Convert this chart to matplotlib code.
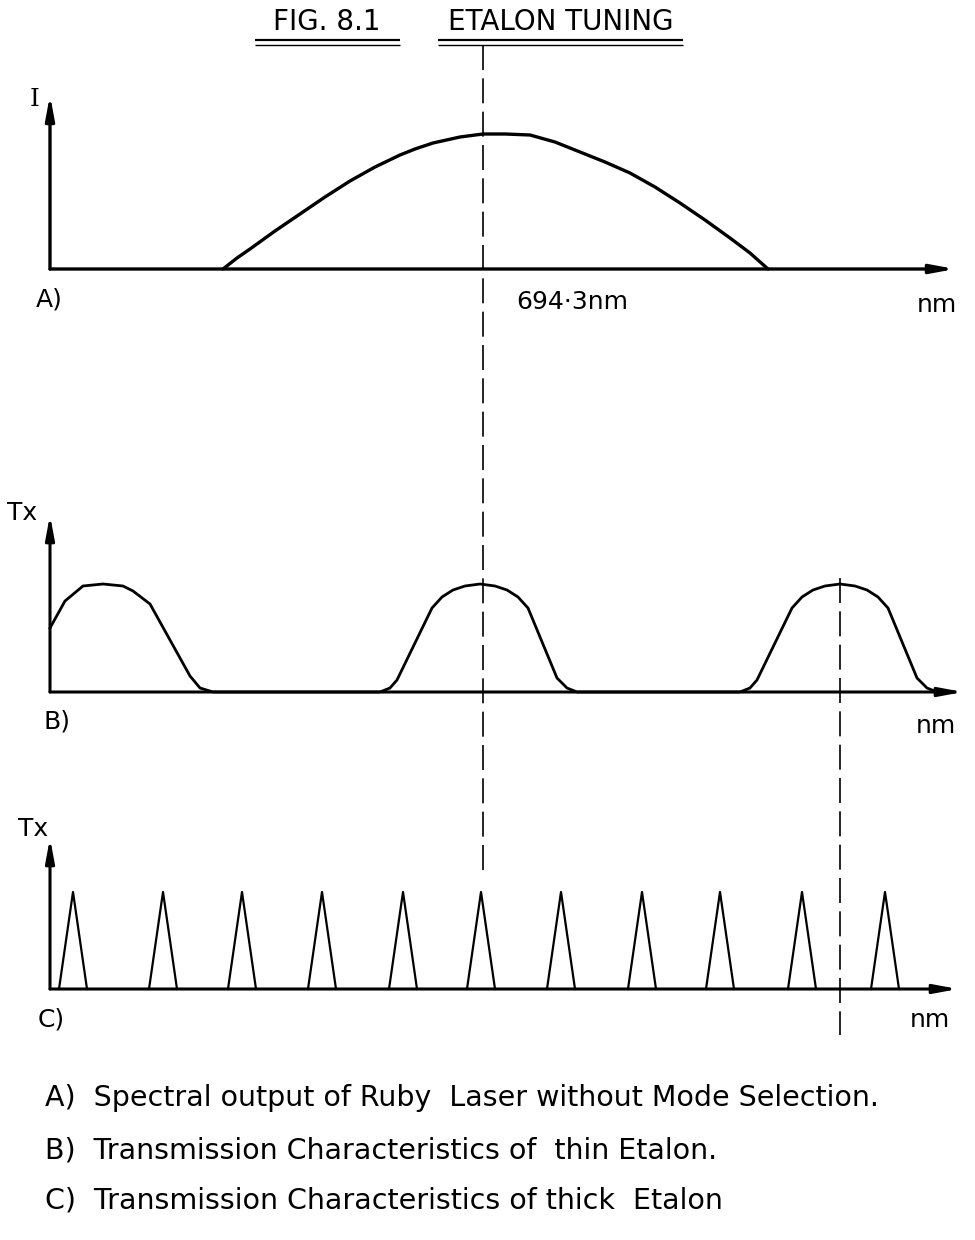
import matplotlib
matplotlib.use("Agg")
import matplotlib.pyplot as plt

plt.rcParams['font.family'] = ['DejaVu Sans']

# ---------------- data ----------------
# Panel A: spectral output of ruby laser (relative wavelength, intensity)
a_x = [173, 187, 200, 225, 250, 275, 300, 325, 350, 365, 383, 410, 433,
       455, 480, 505, 530, 555, 580, 605, 630, 655, 680, 700, 718]
a_y = [0, 11, 20, 38, 55, 72, 88, 102, 114, 120, 126, 132, 135,
       135, 134, 127, 117, 107, 96, 82, 66, 49, 31, 16, 0]

# Panel B: thin etalon transmission (relative wavelength, Tx)
b_x = [0, 15, 33, 53, 73, 83, 100, 140, 150, 163,
       330, 340, 347, 382, 392, 403, 415, 430, 445, 457, 468, 478, 507, 517, 527,
       690, 700, 707, 742, 752, 763, 775, 790, 805, 817, 828, 838, 867, 877, 887, 905]
b_y = [64, 91, 106, 108, 106, 101, 88, 16, 4, 0,
       0, 4, 12, 84, 95, 102, 106, 108, 106, 102, 95, 84, 14, 4, 0,
       0, 4, 12, 84, 95, 102, 106, 108, 106, 102, 95, 84, 14, 4, 0, 0]

# Panel C: thick etalon transmission peaks (relative wavelength, Tx)
c_peaks = [23, 113, 192, 272, 353, 431, 511, 592, 670, 752, 835]
c_heights = [97, 97, 97, 97, 97, 97, 97, 97, 97, 97, 97]
c_halfwidth = 14

# marked wavelengths (dashed guide lines)
mark_x = [433, 790]
mark_label = "694\u00b73nm"

title_left = "FIG. 8.1"
title_right = "ETALON TUNING"
panel_labels = ["A)", "B)", "C)"]
axis_labels = ["I", "Tx", "Tx"]
x_unit = "nm"
captions = ["A)  Spectral output of Ruby  Laser without Mode Selection.",
            "B)  Transmission Characteristics of  thin Etalon.",
            "C)  Transmission Characteristics of thick  Etalon"]

# ---------------- figure ----------------
W, H = 975, 1240
fig = plt.figure(figsize=(W / 100, H / 100), dpi=100)
fig.patch.set_facecolor('white')

XMIN, XMAX = -50, 925


def panel_axes(base_px):
    ax = fig.add_axes([0, (H - (base_px + 10)) / H, 1, 200 / H])
    ax.set_xlim(XMIN, XMAX)
    ax.set_ylim(-10, 190)
    ax.axis('off')
    return ax


def draw_axes(ax, ytop, xend, lw=2.2):
    ap = dict(arrowstyle='-|>,head_length=1.4,head_width=0.26', lw=lw,
              color='black', shrinkA=0, shrinkB=0, mutation_scale=10)
    ax.annotate('', xy=(0, ytop), xytext=(0, 0), arrowprops=ap,
                annotation_clip=False)
    ax.annotate('', xy=(xend, 0), xytext=(0, 0), arrowprops=ap,
                annotation_clip=False)


# overlay axes in page coordinates (for dashed guides, text)
ov = fig.add_axes([0, 0, 1, 1])
ov.set_xlim(XMIN, XMAX)
ov.set_ylim(H, 0)
ov.axis('off')

# Panel A
axA = panel_axes(269)
draw_axes(axA, 174, 905, lw=2.4)
axA.plot(a_x, a_y, color='black', lw=2.4, solid_capstyle='round',
         solid_joinstyle='round', clip_on=False)

# Panel B
axB = panel_axes(692)
draw_axes(axB, 177, 913, lw=2.2)
axB.plot(b_x, b_y, color='black', lw=2.0, solid_joinstyle='round',
         clip_on=False)

# Panel C
axC = panel_axes(989)
draw_axes(axC, 151, 908, lw=2.2)
for p, h in zip(c_peaks, c_heights):
    axC.plot([p - c_halfwidth, p, p + c_halfwidth], [0, h, 0],
             color='black', lw=1.6, clip_on=False)

# dashed guide lines
ov.vlines(mark_x[0], 45, 870, colors='black', lw=1.2,
          linestyles=(0, (15, 5)))
ov.vlines(mark_x[1], 578, 1035, colors='black', lw=1.2,
          linestyles=(0, (15, 5)))

# title with double underlines
ov.text(327 - 50, 22, title_left, fontsize=20, ha='center', va='center')
ov.text(561 - 50, 22, title_right, fontsize=20, ha='center', va='center')
for x0, x1 in [(255, 400), (438, 683)]:
    ov.hlines(40, x0 - 50, x1 - 50, colors='black', lw=1.6)
    ov.hlines(45, x0 - 50, x1 - 50, colors='black', lw=1.0)

# panel texts
ov.text(35 - 50, 100, axis_labels[0], fontsize=18, ha='center', va='center',
        family='DejaVu Serif')
ov.text(49 - 50, 300, panel_labels[0], fontsize=18, ha='center', va='center')
ov.text(572 - 50, 302, mark_label, fontsize=18, ha='center', va='center')
ov.text(937 - 50, 305, x_unit, fontsize=18, ha='center', va='center')

ov.text(22 - 50, 513, axis_labels[1], fontsize=18, ha='center', va='center')
ov.text(57 - 50, 721, panel_labels[1], fontsize=18, ha='center', va='center')
ov.text(936 - 50, 726, x_unit, fontsize=18, ha='center', va='center')

ov.text(33 - 50, 829, axis_labels[2], fontsize=18, ha='center', va='center')
ov.text(51 - 50, 1020, panel_labels[2], fontsize=18, ha='center', va='center')
ov.text(930 - 50, 1020, x_unit, fontsize=18, ha='center', va='center')

# captions
for cap, yb in zip(captions, [1106, 1158, 1209]):
    ov.text(45 - 50, yb, cap, fontsize=20.5, ha='left', va='baseline')

fig.savefig('out.png', dpi=100, facecolor='white')
